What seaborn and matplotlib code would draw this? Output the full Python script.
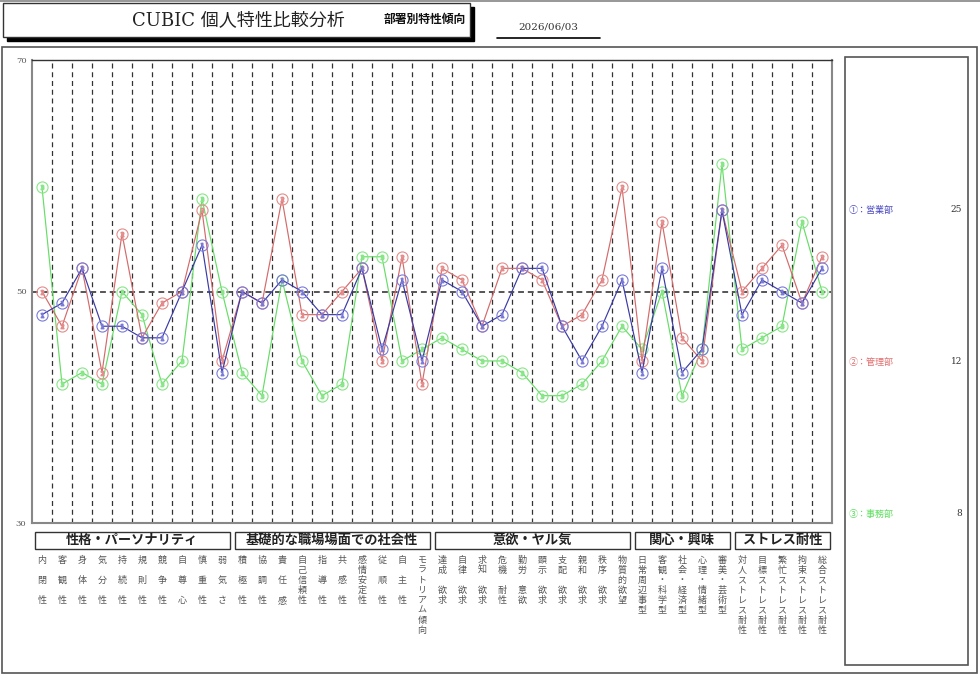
import seaborn as sns
import matplotlib.pyplot as plt
import matplotlib.transforms as mtrans
from matplotlib.patches import Rectangle
import pandas as pd
import numpy as np

# --- data ---
groups = ["性格・パーソナリティ", "基礎的な職場場面での社会性", "意欲・ヤル気", "関心・興味", "ストレス耐性"]
group_sizes = [10, 10, 10, 5, 5]

labels = ["内閉性", "客観性", "身体性", "気分性", "持続性", "規則性", "競争性", "自尊心", "慎重性", "弱気さ",
          "積極性", "協調性", "責任感", "自己信頼性", "指導性", "共感性", "感情安定性", "従順性", "自主性", "モラトリアム傾向",
          "達成欲求", "自律欲求", "求知欲求", "危機耐性", "勤労意欲", "顕示欲求", "支配欲求", "親和欲求", "秩序欲求", "物質的欲望",
          "日常周辺事型", "客観・科学型", "社会・経済型", "心理・情緒型", "審美・芸術型",
          "対人ストレス耐性", "目標ストレス耐性", "繁忙ストレス耐性", "拘束ストレス耐性", "総合ストレス耐性"]

eigyo = [48, 49, 52, 47, 47, 46, 46, 50, 54, 43,
         50, 49, 51, 50, 48, 48, 52, 45, 51, 44,
         51, 50, 47, 48, 52, 52, 47, 44, 47, 51,
         43, 52, 43, 45, 57,
         48, 51, 50, 49, 52]
kanri = [50, 47, 52, 43, 55, 46, 49, 50, 57, 44,
         50, 49, 58, 48, 48, 50, 52, 44, 53, 42,
         52, 51, 47, 52, 52, 51, 47, 48, 51, 59,
         44, 56, 46, 44, 57,
         50, 52, 54, 49, 53]
jimu = [59, 42, 43, 42, 50, 48, 42, 44, 58, 50,
        43, 41, 51, 44, 41, 42, 53, 53, 44, 45,
        46, 45, 44, 44, 43, 41, 41, 42, 44, 47,
        45, 50, 41, 45, 61,
        45, 46, 47, 56, 50]

depts = ["①：営業部", "②：管理部", "③：事務部"]
dept_counts = [25, 12, 8]

sns.set_style("white")
plt.rcParams['font.family'] = ['Noto Sans CJK JP', 'DejaVu Sans']
SERIF = ['DejaVu Serif', 'Noto Sans CJK JP']

W, H = 980, 693
fig = plt.figure(figsize=(9.8, 6.93), dpi=100)

def fx(x):
    return x / W

def fy(y):
    return 1 - y / H

# thin gray strip at the very top
fig.patches.append(Rectangle((0, fy(2)), 1, 2 / H, transform=fig.transFigure,
                             facecolor='#999999', edgecolor='none', zorder=0))

# header box with shadow
fig.patches.append(Rectangle((fx(7), fy(41)), fx(467), 34 / H, transform=fig.transFigure,
                             facecolor='black', edgecolor='black', zorder=0))
fig.patches.append(Rectangle((fx(3), fy(37)), fx(467), 34 / H, transform=fig.transFigure,
                             facecolor='white', edgecolor='#333333', lw=1, zorder=1))
fig.text(fx(238), fy(20), "CUBIC 個人特性比較分析", family=SERIF, fontsize=13,
         ha='center', va='center', color='#222222')
fig.text(fx(425), fy(19), "部署別特性傾向", fontsize=8.5, fontweight='bold',
         ha='center', va='center', color='#111111')
fig.text(fx(548), fy(27), "2026/06/03", family=SERIF, fontsize=7.5,
         ha='center', va='center', color='#333333')
fig.add_artist(plt.Line2D([fx(497), fx(600)], [fy(38), fy(38)], transform=fig.transFigure,
                          color='black', lw=1.2))

# outer frame
fig.patches.append(Rectangle((fx(2), fy(673)), fx(975), (673 - 47) / H, transform=fig.transFigure,
                             facecolor='none', edgecolor='#555555', lw=1.2))
# legend frame
fig.patches.append(Rectangle((fx(845), fy(665)), fx(123), (665 - 57) / H, transform=fig.transFigure,
                             facecolor='none', edgecolor='#555555', lw=1.2))

ax = fig.add_axes([fx(32), fy(523), fx(800), (523 - 60) / H])

x = np.arange(len(labels))
df = pd.DataFrame({"x": x, "eigyo": eigyo, "kanri": kanri, "jimu": jimu})

series = [("jimu", "#66dd66", "#88e688", "3"),
          ("kanri", "#d46a6a", "#e48c8c", "2"),
          ("eigyo", "#3a3aa6", "#7a7ad8", "1")]
for col, lc, mc, num in series:
    sns.lineplot(data=df, x="x", y=col, ax=ax, color=lc, lw=0.85, marker='o', markersize=8,
                 markerfacecolor='none', markeredgecolor=mc, markeredgewidth=0.8)
    ax.plot(df["x"], df[col], ls='none', marker='$' + num + '$', markersize=3.2,
            color=mc)

# grid lines
for b in np.arange(0.5, len(labels) - 1, 1.0):
    ax.axvline(b, color='#333333', lw=0.9, ls=(0, (4, 3)), zorder=0)
ax.axhline(50, color='#555555', lw=1.4, ls=(0, (3, 2)), zorder=0)

ax.set_xlim(-0.5, len(labels) - 0.5)
ax.set_ylim(30, 70)
ax.set_yticks([30, 50, 70])
ax.set_yticklabels(["30", "50", "70"], family=SERIF, fontsize=6, color='#555555')
ax.tick_params(axis='y', length=0, pad=4)
ax.set_xticks(np.arange(0.5, len(labels) - 1, 1.0))
ax.set_xticklabels([])
ax.tick_params(axis='x', direction='in', length=4, color='#333333')
ax.set_xlabel("")
ax.set_ylabel("")
for side in ['left', 'bottom', 'right']:
    ax.spines[side].set_color('#888888')
    ax.spines[side].set_linewidth(1.5)
ax.spines['top'].set_color('#333333')
ax.spines['top'].set_linewidth(1)

# group boxes and titles below the axis
tr = mtrans.blended_transform_factory(ax.transData, fig.transFigure)
start = 0
for g, n in zip(groups, group_sizes):
    x0 = start - 0.5 + 0.15
    x1 = start + n - 0.5 - 0.12
    fig.patches.append(Rectangle((x0, fy(549)), x1 - x0, 17 / H, transform=tr,
                                 facecolor='white', edgecolor='#333333', lw=1))
    fig.text((x0 + x1) / 2, fy(540), g, transform=tr, fontsize=9.5, fontweight='bold',
             ha='center', va='center', color='#222222')
    start += n

# vertical item labels
for i, lab in enumerate(labels):
    if len(lab) == 3:
        slots, step = list(lab), 20.5
    elif len(lab) == 4:
        slots, step = [lab[0], lab[1], "", lab[2], lab[3]], 10
    else:
        slots, step = list(lab), 10
    for k, ch in enumerate(slots):
        if ch:
            fig.text(i, fy(560 + k * step), ch, transform=tr, fontsize=6.5,
                     ha='center', va='center', color='#555555')

# legend entries
leg_colors = ["#4848c0", "#e07070", "#5ede5e"]
for name, cnt, c, yy in zip(depts, dept_counts, leg_colors, [210, 362, 514]):
    fig.text(fx(849), fy(yy), name, fontsize=6.5, color=c, ha='left', va='center')
    fig.text(fx(962), fy(yy), str(cnt), family=SERIF, fontsize=6.5, color='#333333',
             ha='right', va='center')

fig.savefig("out.png", dpi=100)
